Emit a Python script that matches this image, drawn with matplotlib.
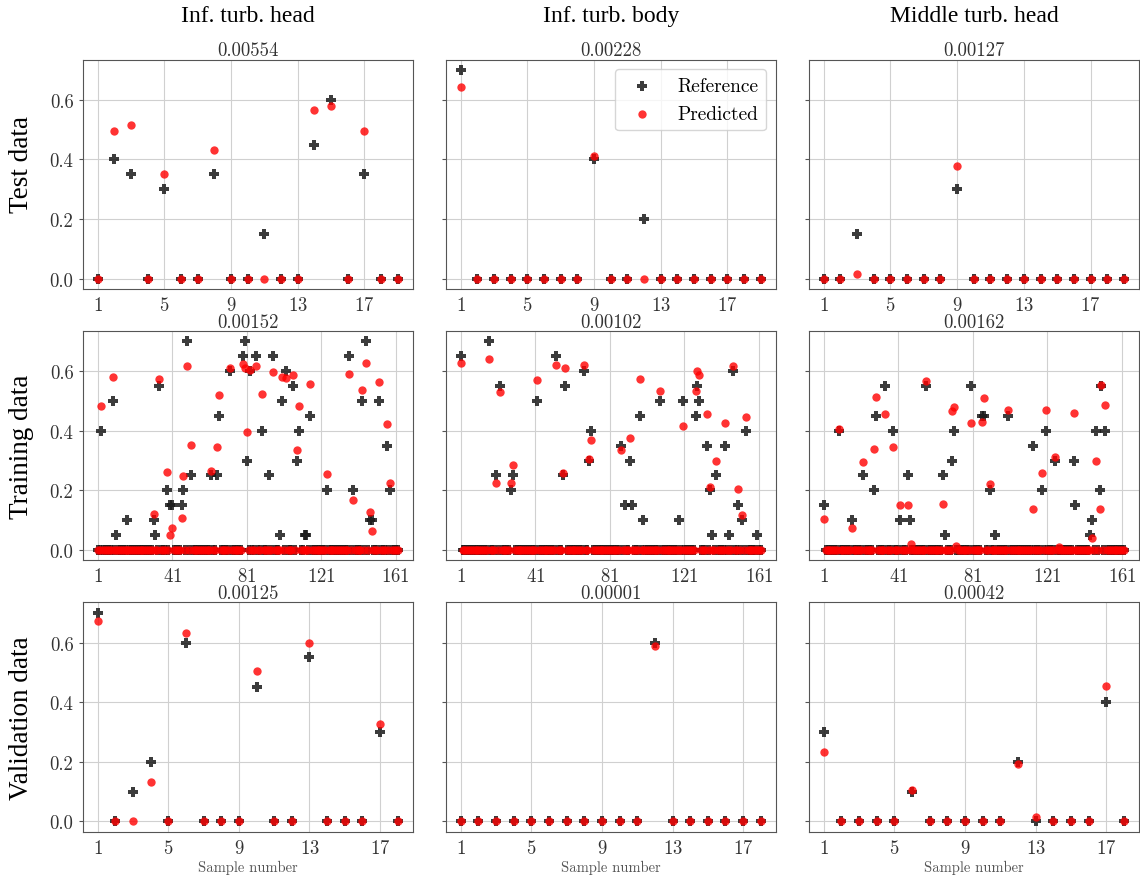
import numpy as np
import matplotlib.pyplot as plt

plt.rcParams['font.family'] = 'serif'
plt.rcParams['font.serif'] = ['cmr10']
plt.rcParams['axes.formatter.use_mathtext'] = True

columns = ["Inf. turb. head", "Inf. turb. body", "Middle turb. head"]
rows = ["Test data", "Training data", "Validation data"]
mse = [["0.00554", "0.00228", "0.00127"],
       ["0.00152", "0.00102", "0.00162"],
       ["0.00125", "0.00001", "0.00042"]]

n_train = 162

# test set (19 samples)
test_head_ref = [0, 0.4, 0.35, 0, 0.3, 0, 0, 0.35, 0, 0, 0.15, 0, 0, 0.45, 0.6, 0, 0.35, 0, 0]
test_head_pred = [0, 0.497, 0.516, 0, 0.352, 0, 0, 0.432, 0, 0, 0, 0, 0, 0.566, 0.579, 0, 0.496, 0, 0]
test_body_ref = [0.7, 0, 0, 0, 0, 0, 0, 0, 0.4, 0, 0, 0.2, 0, 0, 0, 0, 0, 0, 0]
test_body_pred = [0.642, 0, 0, 0, 0, 0, 0, 0, 0.413, 0, 0, 0, 0, 0, 0, 0, 0, 0, 0]
test_mid_ref = [0, 0, 0.15, 0, 0, 0, 0, 0, 0.3, 0, 0, 0, 0, 0, 0, 0, 0, 0, 0]
test_mid_pred = [0, 0, 0.015, 0, 0, 0, 0, 0, 0.378, 0, 0, 0, 0, 0, 0, 0, 0, 0, 0]

# training set: only the non-zero samples are listed, the rest are 0
train_head_idx = [3, 9, 11, 17, 31, 32, 34, 38, 40, 41, 46, 47, 49, 51, 62, 65, 66, 72, 79, 80,
                  81, 83, 86, 89, 93, 95, 99, 100, 102, 106, 108, 109, 112, 113, 115, 124, 136,
                  138, 143, 145, 147, 148, 152, 156, 158]
train_head_ref = [0.4, 0.5, 0.05, 0.1, 0.1, 0.05, 0.55, 0.2, 0.15, 0.15, 0.15, 0.2, 0.7, 0.25, 0.25,
                  0.25, 0.45, 0.6, 0.65, 0.7, 0.3, 0.6, 0.65, 0.4, 0.25, 0.65, 0.05, 0.5, 0.6, 0.55,
                  0.3, 0.4, 0.05, 0.05, 0.45, 0.2, 0.65, 0.2, 0.5, 0.7, 0.1, 0.1, 0.5, 0.35, 0.2]
train_head_pred = [0.483, 0.58, 0, 0, 0.122, 0, 0.573, 0.262, 0.051, 0.074, 0.106, 0.249, 0.619, 0.354,
                   0.265, 0.346, 0.52, 0.611, 0.623, 0.61, 0.396, 0.605, 0.619, 0.524, 0, 0.599, 0,
                   0.582, 0.577, 0.587, 0.336, 0.484, 0, 0, 0.557, 0.255, 0.591, 0.168, 0.537, 0.626,
                   0.126, 0.065, 0.564, 0.424, 0.225]

train_body_idx = [1, 16, 20, 22, 28, 29, 42, 52, 56, 57, 67, 70, 71, 87, 89, 92, 93, 97, 99, 108,
                  118, 120, 127, 128, 129, 133, 135, 136, 138, 143, 145, 147, 150, 152, 154, 160]
train_body_ref = [0.65, 0.7, 0.25, 0.55, 0.2, 0.25, 0.5, 0.65, 0.25, 0.55, 0.6, 0.3, 0.4, 0.35, 0.15,
                  0.3, 0.15, 0.45, 0.1, 0.5, 0.1, 0.5, 0.45, 0.55, 0.5, 0.35, 0.2, 0.05, 0.25, 0.35,
                  0.05, 0.6, 0.15, 0.1, 0.4, 0.05]
train_body_pred = [0.626, 0.64, 0.226, 0.531, 0.226, 0.284, 0.571, 0.622, 0.259, 0.61, 0.622, 0.304,
                   0.369, 0.337, 0, 0.375, 0, 0.574, 0, 0.534, 0, 0.415, 0.535, 0.602, 0.589, 0.458,
                   0.21, 0, 0.298, 0.426, 0, 0.616, 0.204, 0.118, 0.448, 0]

train_mid_idx = [1, 9, 16, 22, 28, 29, 34, 38, 42, 46, 47, 48, 56, 65, 66, 70, 71, 72, 80, 86, 87,
                 90, 93, 100, 113, 118, 120, 125, 127, 135, 136, 144, 145, 147, 149, 150, 152]
train_mid_ref = [0.15, 0.4, 0.1, 0.25, 0.2, 0.45, 0.55, 0.4, 0.1, 0.25, 0.1, 0, 0.55, 0.25, 0.05,
                 0.3, 0.4, 0, 0.55, 0.45, 0.45, 0.2, 0.05, 0.45, 0.35, 0.2, 0.4, 0.3, 0, 0.3, 0.15,
                 0.05, 0.1, 0.4, 0.2, 0.55, 0.4]
train_mid_pred = [0.104, 0.407, 0.074, 0.296, 0.34, 0.513, 0.457, 0.346, 0.151, 0.151, 0, 0.019,
                  0.567, 0.156, 0, 0.467, 0.481, 0.015, 0.427, 0.429, 0.511, 0.221, 0, 0.471, 0.138,
                  0.26, 0.471, 0.311, 0.011, 0.459, 0, 0, 0.039, 0.298, 0.137, 0.554, 0.487]

# validation set (18 samples)
val_head_ref = [0.7, 0, 0.1, 0.2, 0, 0.6, 0, 0, 0, 0.45, 0, 0, 0.55, 0, 0, 0, 0.3, 0]
val_head_pred = [0.674, 0, 0, 0.133, 0, 0.631, 0, 0, 0, 0.503, 0, 0, 0.599, 0, 0, 0, 0.327, 0]
val_body_ref = [0, 0, 0, 0, 0, 0, 0, 0, 0, 0, 0, 0.6, 0, 0, 0, 0, 0, 0]
val_body_pred = [0, 0, 0, 0, 0, 0, 0, 0, 0, 0, 0, 0.588, 0, 0, 0, 0, 0, 0]
val_mid_ref = [0.3, 0, 0, 0, 0, 0.1, 0, 0, 0, 0, 0, 0.2, 0, 0, 0, 0, 0.4, 0]
val_mid_pred = [0.234, 0, 0, 0, 0, 0.104, 0, 0, 0, 0, 0, 0.194, 0.016, 0, 0, 0, 0.454, 0]


def expand(idx, vals, n):
    full = np.zeros(n)
    full[np.array(idx) - 1] = vals
    return full


panels = [
    [(test_head_ref, test_head_pred), (test_body_ref, test_body_pred), (test_mid_ref, test_mid_pred)],
    [(expand(train_head_idx, train_head_ref, n_train), expand(train_head_idx, train_head_pred, n_train)),
     (expand(train_body_idx, train_body_ref, n_train), expand(train_body_idx, train_body_pred, n_train)),
     (expand(train_mid_idx, train_mid_ref, n_train), expand(train_mid_idx, train_mid_pred, n_train))],
    [(val_head_ref, val_head_pred), (val_body_ref, val_body_pred), (val_mid_ref, val_mid_pred)],
]
xticks = [[1, 5, 9, 13, 17], [1, 41, 81, 121, 161], [1, 5, 9, 13, 17]]

fig, axes = plt.subplots(3, 3, figsize=(11.4, 8.79), dpi=100, sharey=True)
plt.subplots_adjust(left=0.0725, right=0.999, top=0.931, bottom=0.0526, wspace=0.1, hspace=0.183)

for i in range(3):
    for j in range(3):
        ax = axes[i, j]
        ref, pred = panels[i][j]
        x = np.arange(1, len(ref) + 1)
        ax.scatter(x, ref, marker='P', s=55, color='#1a1a1a', alpha=0.85, linewidths=0,
                   label='Reference', zorder=3)
        ax.scatter(x, pred, marker='o', s=36, color='red', alpha=0.8, linewidths=0,
                   label='Predicted', zorder=4)
        ax.set_xticks(xticks[i])
        ax.set_yticks([0.0, 0.2, 0.4, 0.6])
        ax.set_yticklabels(['0.0', '0.2', '0.4', '0.6'])
        ax.grid(True, color='#d0d0d0', linewidth=0.8)
        ax.set_axisbelow(True)
        for sp in ax.spines.values():
            sp.set_color('#555555')
        ax.tick_params(axis='x', length=0, pad=5, labelsize=13.5, labelcolor='#333333')
        ax.tick_params(axis='y', length=3, color='#555555', labelsize=13.5, labelcolor='#333333')
        ax.set_title(mse[i][j], fontsize=13.5, pad=3, color='#333333')
        if i == 2:
            ax.set_xlabel('Sample number', fontsize=10.5, color='#555555', labelpad=2)

axes[0, 1].legend(loc='upper right', fontsize=14, framealpha=0.8)

col_x = [0.2172, 0.5358, 0.8545]
for cx, name in zip(col_x, columns):
    fig.text(cx, 0.981, name, ha='center', va='center', fontsize=17, family='Liberation Serif')

row_y = [0.8123, 0.4914, 0.1831]
for ry, name in zip(row_y, rows):
    fig.text(0.019, ry, name, ha='center', va='center', rotation=90, fontsize=19.5,
             family='Liberation Serif')

plt.savefig('out.png', dpi=100)
